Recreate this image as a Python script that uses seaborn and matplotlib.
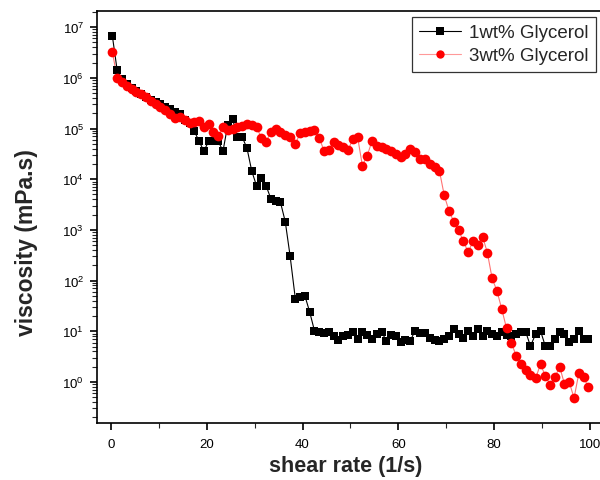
import numpy as np
import pandas as pd
import matplotlib
matplotlib.use("Agg")
import matplotlib.pyplot as plt
from matplotlib.ticker import MultipleLocator, LogLocator
from matplotlib.lines import Line2D
import seaborn as sns

# Shear rate sampling (1/s), shared by both samples
shear_rate = [
    0.3, 1.3, 2.3, 3.3, 4.3, 5.3, 6.3, 7.3, 8.3, 9.3,
    10.3, 11.3, 12.3, 13.3, 14.4, 15.4, 16.4, 17.4, 18.4, 19.4,
    20.4, 21.4, 22.4, 23.4, 24.4, 25.4, 26.4, 27.4, 28.4, 29.4,
    30.4, 31.4, 32.4, 33.4, 34.4, 35.4, 36.4, 37.4, 38.5, 39.5,
    40.5, 41.5, 42.5, 43.5, 44.5, 45.5, 46.5, 47.5, 48.5, 49.5,
    50.5, 51.5, 52.5, 53.5, 54.5, 55.5, 56.5, 57.5, 58.5, 59.5,
    60.5, 61.5, 62.5, 63.5, 64.6, 65.6, 66.6, 67.6, 68.6, 69.6,
    70.6, 71.6, 72.6, 73.6, 74.6, 75.6, 76.6, 77.6, 78.6, 79.6,
    80.6, 81.6, 82.6, 83.6, 84.6, 85.6, 86.6, 87.6, 88.7, 89.7,
    90.7, 91.7, 92.7, 93.7, 94.7, 95.7, 96.7, 97.7, 98.7, 99.7,
]

# Viscosity (mPa.s), 1 wt% glycerol
visc_1wt = [
    6.6e6, 1.4e6, 9.3e5, 7.6e5, 6.3e5, 5.5e5, 4.8e5, 4.2e5, 3.7e5, 3.3e5,
    3.0e5, 2.6e5, 2.4e5, 2.1e5, 1.9e5, 1.45e5, 1.3e5, 8.9e4, 5.6e4, 3.6e4,
    5.6e4, 5.6e4, 5.6e4, 3.6e4, 1.2e5, 1.55e5, 6.8e4, 6.8e4, 4.1e4, 1.45e4,
    7.4e3, 1.05e4, 7.4e3, 4.1e3, 3.7e3, 3.5e3, 1.45e3, 310, 44, 48,
    50, 24, 10.2, 9.8, 9.3, 9.8, 8.1, 6.8, 8.1, 8.5,
    9.8, 7.1, 9.8, 8.5, 7.1, 8.9, 9.8, 6.5, 8.5, 8.1,
    6.2, 6.8, 6.5, 10.2, 9.3, 9.3, 7.4, 6.8, 6.5, 7.1,
    8.1, 11.2, 8.9, 7.4, 10.2, 8.1, 11.2, 8.1, 10.2, 8.9,
    8.1, 9.8, 8.5, 8.1, 8.9, 9.8, 9.8, 5.1, 8.9, 10.2,
    5.1, 5.1, 7.1, 9.8, 8.9, 6.2, 7.1, 10.2, 7.1, 7.1,
]

# Viscosity (mPa.s), 3 wt% glycerol
visc_3wt = [
    3.2e6, 1.0e6, 8.3e5, 6.9e5, 5.9e5, 5.2e5, 4.7e5, 4.1e5, 3.5e5, 3.1e5,
    2.6e5, 2.3e5, 1.9e5, 1.6e5, 1.7e5, 1.45e5, 1.26e5, 1.32e5, 1.41e5, 1.07e5,
    1.23e5, 8.5e4, 7.1e4, 1.07e5, 9.3e4, 9.8e4, 1.07e5, 1.12e5, 1.23e5, 1.17e5,
    1.07e5, 6.6e4, 5.5e4, 8.5e4, 1.0e5, 8.5e4, 7.6e4, 6.9e4, 4.9e4, 8.1e4,
    8.5e4, 8.9e4, 9.3e4, 6.6e4, 3.6e4, 3.8e4, 5.4e4, 4.8e4, 4.3e4, 3.7e4,
    6.2e4, 6.8e4, 1.86e4, 2.9e4, 5.6e4, 4.6e4, 4.3e4, 4.0e4, 3.6e4, 3.2e4,
    2.75e4, 3.2e4, 4.0e4, 3.5e4, 2.5e4, 2.5e4, 2.0e4, 1.74e4, 1.45e4, 4.8e3,
    2.35e3, 1.45e3, 980, 600, 360, 600, 500, 740, 355, 110,
    63, 27.5, 11.5, 6.0, 3.3, 2.3, 1.74, 1.38, 1.2, 2.24,
    1.32, 0.89, 1.23, 2.0, 0.91, 1.0, 0.48, 1.48, 1.26, 0.78,
]

series_names = ["1wt% Glycerol", "3wt% Glycerol"]

df = pd.DataFrame({
    "shear rate": shear_rate * 2,
    "viscosity": visc_1wt + visc_3wt,
    "sample": [series_names[0]] * len(shear_rate) + [series_names[1]] * len(shear_rate),
})

sns.set_theme(style="ticks")
plt.rcParams["font.family"] = ["Liberation Sans", "DejaVu Sans"]
plt.rcParams["mathtext.fontset"] = "custom"
plt.rcParams["mathtext.rm"] = "Liberation Sans"
plt.rcParams["mathtext.it"] = "Liberation Sans:italic"
plt.rcParams["mathtext.bf"] = "Liberation Sans:bold"

fig = plt.figure(figsize=(6.0, 4.81), dpi=100)
ax = fig.add_axes([0.161, 0.1185, 0.846, 0.8565])

styles = {
    series_names[0]: dict(color="black", marker="s", markersize=6.4, line_alpha=1.0),
    series_names[1]: dict(color="#ff0000", marker="o", markersize=7.0, line_alpha=0.55),
}

for name in series_names:
    st = styles[name]
    sub = df[df["sample"] == name]
    sns.lineplot(
        data=sub, x="shear rate", y="viscosity", ax=ax,
        estimator=None, sort=False, color=st["color"],
        linewidth=0.8, legend=False,
    )
    ax.lines[-1].set_alpha(st["line_alpha"])
    sns.scatterplot(
        data=sub, x="shear rate", y="viscosity", ax=ax,
        marker=st["marker"], s=st["markersize"] ** 2, color=st["color"],
        linewidth=0, legend=False, zorder=3,
    )

ax.set_yscale("log")
ax.set_xlim(-3, 103)
ax.set_ylim(0.155, 2.08e7)

ax.xaxis.set_major_locator(MultipleLocator(20))
ax.xaxis.set_minor_locator(MultipleLocator(10))
ax.yaxis.set_major_locator(LogLocator(base=10, numticks=20))
ax.yaxis.set_minor_locator(LogLocator(base=10, subs=np.arange(2, 10), numticks=20))

ax.tick_params(axis="both", which="major", direction="out", length=5, width=1.2,
               labelsize=9.5, colors="black", pad=4)
ax.tick_params(axis="both", which="minor", direction="out", length=3.5, width=0.8)
ax.tick_params(axis="x", which="major", pad=6)
ax.tick_params(top=False, right=False, which="both")

for sp in ax.spines.values():
    sp.set_linewidth(1.2)
    sp.set_color("black")

ax.set_xlabel("shear rate (1/s)", fontsize=15.5, fontweight="bold")
ax.set_ylabel("viscosity (mPa.s)", fontsize=16.5, fontweight="bold")
ax.xaxis.set_label_coords(0.491, -0.077)
ax.yaxis.set_label_coords(-0.115, 0.44)

# Legend: line handles carrying the series markers
handles = [
    Line2D([], [], color="black", lw=0.8, marker="s", markersize=5.5,
           markeredgewidth=0),
    Line2D([], [], color="#ff9999", lw=0.8, marker="o", markersize=6.0,
           markerfacecolor="#ff0000", markeredgewidth=0),
]
leg = ax.legend(handles, series_names, loc="upper left",
                bbox_to_anchor=(0.621, 0.986), fontsize=13.5,
                frameon=True, fancybox=False, shadow=False,
                borderaxespad=0, borderpad=0.4, handlelength=2.2,
                handletextpad=0.45, labelspacing=0.3)
leg.get_frame().set_edgecolor("black")
leg.get_frame().set_linewidth(0.9)

fig.savefig("out.png", dpi=100)
